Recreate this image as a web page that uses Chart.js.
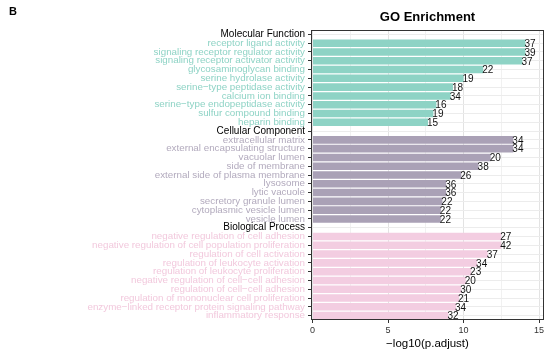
<!DOCTYPE html>
<html>
<head>
<meta charset="utf-8">
<script src="https://cdn.jsdelivr.net/npm/chart.js@4.4.1/dist/chart.umd.min.js"></script>
<style>
  html, body { margin: 0; background: #fff; }
  #wrap { width: 550px; height: 354px; position: relative; }
</style>
</head>
<body>
<div id="wrap"><canvas id="myChart"></canvas></div>
<script>
// GO terms per ontology, top to bottom
const mfTerms = ["receptor ligand activity", "signaling receptor regulator activity", "signaling receptor activator activity",
  "glycosaminoglycan binding", "serine hydrolase activity", "serine\u2212type peptidase activity", "calcium ion binding",
  "serine\u2212type endopeptidase activity", "sulfur compound binding", "heparin binding"]
const mfValues = [14.1, 14.1, 13.9, 11.3, 10.0, 9.3, 9.15, 8.2, 8.0, 7.65]
const mfCounts = [37, 39, 37, 22, 19, 18, 34, 16, 19, 15]

const ccTerms = ["extracellular matrix", "external encapsulating structure", "vacuolar lumen", "side of membrane",
  "external side of plasma membrane", "lysosome", "lytic vacuole", "secretory granule lumen",
  "cytoplasmic vesicle lumen", "vesicle lumen"]
const ccValues = [13.3, 13.3, 11.8, 11.0, 9.85, 8.85, 8.85, 8.6, 8.5, 8.5]
const ccCounts = [34, 34, 20, 38, 26, 36, 36, 22, 22, 22]

const bpTerms = ["negative regulation of cell adhesion", "negative regulation of cell population proliferation",
  "regulation of cell activation", "regulation of leukocyte activation", "regulation of leukocyte proliferation",
  "negative regulation of cell\u2212cell adhesion", "regulation of cell\u2212cell adhesion",
  "regulation of mononuclear cell proliferation", "enzyme\u2212linked receptor protein signaling pathway",
  "inflammatory response"]
const bpValues = [12.5, 12.5, 11.6, 10.9, 10.5, 10.15, 9.85, 9.7, 9.5, 9.0]
const bpCounts = [27, 42, 37, 34, 23, 20, 30, 21, 34, 32]

const groups = ["Molecular Function", "Cellular Component", "Biological Process"]
const xTicks = [0, 5, 10, 15]

const barColors = ["#8ed3c5", "#aaa1b6", "#f3cde1"]
const textColors = ["#8ed3c5", "#b2aabd", "#f2c9dd"]

// flatten into one category axis, with a header row per group
const labels = [], values = [], counts = [], fills = [], tickColors = []
;[[mfTerms, mfValues, mfCounts], [ccTerms, ccValues, ccCounts], [bpTerms, bpValues, bpCounts]].forEach((g, gi) => {
  labels.push(groups[gi]); values.push(null); counts.push(null); fills.push("#000"); tickColors.push("#000")
  g[0].forEach((t, i) => {
    labels.push(t); values.push(g[1][i]); counts.push(g[2][i])
    fills.push(barColors[gi]); tickColors.push(textColors[gi])
  })
})

Chart.defaults.font.family = "'Liberation Sans', Arial, sans-serif"

const extras = {
  id: "extras",
  afterDatasetsDraw(chart) {
    const ctx = chart.ctx
    ctx.save()
    ctx.font = "10px 'Liberation Sans', Arial, sans-serif"
    ctx.fillStyle = "#111"
    ctx.textBaseline = "middle"
    ctx.textAlign = "left"
    chart.getDatasetMeta(0).data.forEach((bar, i) => {
      if (counts[i] == null) return
      ctx.fillText(counts[i], bar.x - 1, bar.y + 1)
    })
    ctx.restore()
  },
  afterDraw(chart) {
    const ctx = chart.ctx, a = chart.chartArea
    ctx.save()
    ctx.strokeStyle = "#333"
    ctx.lineWidth = 1
    ctx.strokeRect(a.left + 0.5, a.top + 0.5, a.right - a.left - 1, a.bottom - a.top - 1)
    ctx.fillStyle = "#000"
    ctx.textAlign = "center"
    ctx.textBaseline = "middle"
    ctx.font = "bold 13px 'Liberation Sans', Arial, sans-serif"
    ctx.fillText("GO Enrichment", (a.left + a.right) / 2, 17)
    ctx.textAlign = "left"
    ctx.font = "bold 11px 'Liberation Sans', Arial, sans-serif"
    ctx.fillText("B", 9, 12)
    ctx.restore()
  }
}

const config = {
  type: "bar",
  data: {
    labels: labels,
    datasets: [{
      data: values,
      backgroundColor: fills,
      categoryPercentage: 1,
      barPercentage: 0.86,
    }],
  },
  options: {
    indexAxis: "y",
    responsive: true,
    maintainAspectRatio: false,
    animation: false,
    layout: { padding: { top: 30, right: 6, left: 0, bottom: 0 } },
    plugins: { legend: { display: false }, tooltip: { enabled: false } },
    scales: {
      x: {
        min: -0.1,
        max: 15.33,
        afterBuildTicks: s => { s.ticks = [0, 2.5, 5, 7.5, 10, 12.5, 15].map(v => ({ value: v })) },
        afterFit: s => { s.height = 34 },
        border: { display: false },
        grid: {
          color: c => (xTicks.includes(c.tick.value) ? "#e3e3e3" : "#f1f1f1"),
          tickColor: c => (xTicks.includes(c.tick.value) ? "#333" : "rgba(0,0,0,0)"),
          tickLength: 3,
        },
        ticks: {
          color: "#333",
          font: { size: 9 },
          padding: 2,
          maxRotation: 0,
          callback: v => (xTicks.includes(v) ? v : ""),
        },
        title: { display: true, text: "\u2212log10(p.adjust)", color: "#000", font: { size: 11.5 }, padding: { top: 2, bottom: 3 } },
      },
      y: {
        afterFit: s => { s.width = 311 },
        border: { display: false },
        grid: { offset: false, color: "#ececec", tickColor: "#333", tickLength: 3 },
        ticks: {
          autoSkip: false,
          padding: 3,
          font: c => ({ size: tickColors[c.index] === "#000" ? 10 : 9.8 }),
          color: c => tickColors[c.index],
        },
      },
    },
  },
  plugins: [extras],
}

const myChart = new Chart(document.getElementById("myChart"), config)
</script>
</body>
</html>
